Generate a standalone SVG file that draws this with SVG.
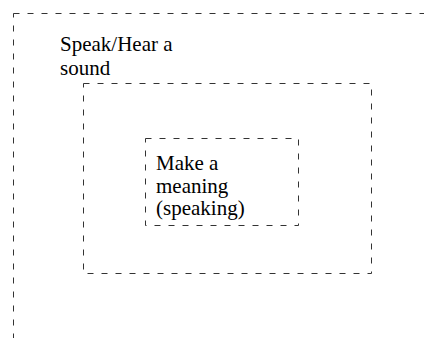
<svg xmlns="http://www.w3.org/2000/svg" width="424" height="338" viewBox="0 0 424 338">
<style>
.box{fill:none;stroke:#333;stroke-width:1;stroke-dasharray:6 8}
.lbl{font-family:"Liberation Serif","Times New Roman",serif;font-size:21px;fill:#000}
</style>
<rect width="424" height="338" fill="#fff"/>
<g id="outer">
<rect class="box" x="13.5" y="13.5" width="440" height="360"/>
<text class="lbl" x="60" y="51">Speak/Hear a</text>
<text class="lbl" x="60" y="75">sound</text>
</g>
<g id="middle">
<rect class="box" x="83.5" y="83.5" width="288" height="190"/>
</g>
<g id="inner">
<rect class="box" x="145.5" y="138.5" width="153" height="87"/>
<text class="lbl" x="156" y="170">Make a</text>
<text class="lbl" x="156" y="193">meaning</text>
<text class="lbl" x="156" y="215">(speaking)</text>
</g>
<g id="connectors"></g>
</svg>
